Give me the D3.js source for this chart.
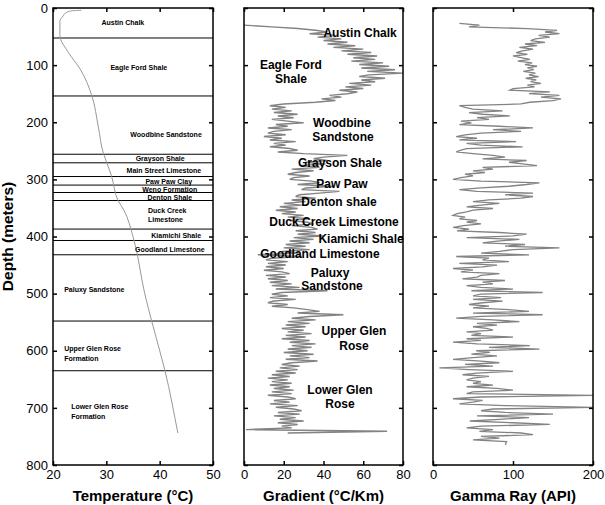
<!DOCTYPE html>
<html>
<head>
<meta charset="utf-8">
<script src="https://cdn.jsdelivr.net/npm/d3@7"></script>
<style>
  body { margin: 0; background: #fff; }
  text { font-family: "Liberation Sans", Arial, Helvetica, sans-serif; }
</style>
</head>
<body>
<svg id="chart" width="605" height="505"></svg>
<script>
// ---- data ----
const depthTicks = [0, 100, 200, 300, 400, 500, 600, 700, 800];
const tempTicks = [20, 30, 40, 50];
const gradTicks = [0, 20, 40, 60, 80];
const gammaTicks = [0, 100, 200];

// temperature profile: [temperature °C, depth m]
const tempProfile = [
  [25.3, 4], [23.5, 5], [22.5, 8], [21.9, 14], [21.3, 23], [21.3, 48], [22.9, 78],
  [25.1, 107], [27.3, 154], [28.5, 208], [29.5, 256], [30.1, 271], [31.0, 295],
  [32.2, 337], [33.3, 354], [35.0, 400], [37.2, 500], [38.5, 548], [41.0, 635], [43.4, 744]
];

// formation tops (m) drawn as lines in the left panel
const formationTops = [52.5, 154, 256, 271, 295, 310, 323, 337, 387, 407, 432, 548, 635];

// left panel labels: [text, temperature, depth, anchor]
const formationLabels = [
  ["Austin Chalk", 33.1, 26, "middle"],
  ["Eagle Ford Shale", 36.1, 105, "middle"],
  ["Woodbine Sandstone", 41.2, 222, "middle"],
  ["Grayson Shale", 40.1, 264, "middle"],
  ["Main Street Limestone", 40.8, 285, "middle"],
  ["Paw Paw Clay", 41.7, 303, "middle"],
  ["Weno Formation", 41.9, 317, "middle"],
  ["Denton Shale", 41.9, 331, "middle"],
  ["Duck Creek", 37.8, 355, "start"],
  ["Limestone", 37.8, 371, "start"],
  ["Kiamichi Shale", 43.1, 399, "middle"],
  ["Goodland Limestone", 41.9, 422, "middle"],
  ["Paluxy Sandstone", 22.1, 492, "start"],
  ["Upper Glen Rose", 22.1, 597, "start"],
  ["Formation", 22.1, 614, "start"],
  ["Lower Glen Rose", 23.4, 698, "start"],
  ["Formation", 23.4, 716, "start"]
];

// middle panel labels: [text, gradient, depth]
const gradLabels = [
  ["Austin Chalk", 58.4, 44],
  ["Eagle Ford", 23.6, 100],
  ["Shale", 23.6, 124],
  ["Woodbine", 49.3, 201],
  ["Sandstone", 49.8, 226],
  ["Grayson Shale", 48.3, 271],
  ["Paw Paw", 49.3, 308],
  ["Denton shale", 47.8, 340],
  ["Duck Creek Limestone", 45.3, 374],
  ["Kiamichi Shale", 58.9, 404],
  ["Goodland Limestone", 38.2, 431],
  ["Paluxy", 43.3, 464],
  ["Sandstone", 44.3, 487],
  ["Upper Glen", 55.3, 565],
  ["Rose", 55.3, 592],
  ["Lower Glen", 48.3, 669],
  ["Rose", 48.3, 693]
];

// geothermal gradient log, sampled every 3 m from 30 m
const gradTop = 30, gradStep = 3;
const gradValues = [
  0, 14, 27, 36, 42, 33, 46, 37, 49, 40,
  52, 42, 56, 45, 60, 49, 64, 52, 67, 55,
  66, 54, 70, 58, 73, 59, 76, 62, 80, 63,
  58, 71, 59, 66, 53, 64, 51, 60, 48, 57,
  52, 43, 49, 39, 46, 36, 20, 13, 21, 14,
  24, 15, 27, 17, 25, 14, 22, 30, 16, 22,
  12, 24, 15, 12, 21, 10, 19, 13, 26, 15,
  21, 13, 23, 27, 17, 30, 52, 40, 35, 42,
  31, 41, 28, 38, 24, 35, 26, 22, 33, 25,
  23, 34, 38, 27, 45, 31, 29, 48, 38, 28,
  26, 36, 24, 31, 20, 29, 18, 27, 16, 26,
  19, 30, 22, 33, 23, 32, 35, 24, 34, 37,
  26, 36, 27, 40, 25, 35, 23, 33, 21, 31,
  20, 33, 19, 28, 7, 29, 14, 11, 22, 12,
  21, 11, 20, 10, 19, 23, 11, 21, 12, 22,
  13, 24, 14, 28, 16, 42, 19, 14, 22, 13,
  26, 15, 12, 22, 14, 25, 32, 38, 27, 50,
  33, 24, 36, 22, 33, 21, 31, 19, 30, 22,
  34, 21, 31, 19, 33, 23, 36, 24, 34, 22,
  32, 20, 35, 23, 33, 21, 37, 24, 19, 28,
  18, 27, 16, 26, 14, 23, 12, 22, 14, 24,
  13, 23, 15, 25, 14, 24, 12, 22, 26, 15,
  23, 13, 27, 16, 25, 29, 17, 28, 15, 26,
  18, 30, 17, 27, 19, 24, 1, 72, 22
];

// gamma ray log, sampled every 3 m from 27 m
const gammaTop = 27, gammaStep = 3;
const gammaValues = [
  33, 58, 45, 118, 155, 140, 158, 132, 146, 128,
  122, 140, 115, 130, 108, 125, 112, 104, 118, 100,
  110, 121, 106, 124, 115, 130, 118, 126, 113, 128,
  120, 132, 116, 129, 122, 135, 118, 127, 100, 96,
  146, 120, 158, 135, 160, 150, 121, 110, 33, 40,
  50, 87, 45, 62, 96, 55, 70, 35, 48, 33,
  83, 125, 75, 110, 60, 40, 29, 55, 33, 104,
  42, 60, 112, 42, 35, 29, 50, 75, 90, 62,
  117, 95, 112, 130, 62, 75, 50, 65, 40, 50,
  35, 25, 60, 133, 117, 95, 60, 33, 55, 125,
  90, 125, 110, 70, 50, 83, 60, 42, 75, 50,
  42, 30, 25, 40, 33, 55, 42, 60, 38, 25,
  45, 30, 83, 117, 100, 42, 108, 80, 62, 115,
  90, 158, 100, 83, 60, 120, 29, 70, 62, 95,
  33, 80, 62, 25, 50, 35, 83, 60, 55, 37,
  90, 62, 75, 42, 60, 100, 48, 137, 60, 50,
  85, 50, 87, 62, 45, 70, 50, 95, 120, 50,
  137, 60, 29, 75, 108, 55, 80, 50, 67, 75,
  42, 60, 48, 100, 42, 60, 25, 55, 121, 70,
  133, 54, 71, 48, 80, 50, 25, 60, 83, 40,
  75, 8, 45, 100, 55, 37, 70, 50, 42, 60,
  50, 75, 42, 80, 100, 50, 42, 200, 60, 25,
  62, 50, 33, 90, 200, 75, 60, 90, 150, 55,
  120, 83, 46, 100, 146, 60, 42, 75, 58, 110,
  125, 60, 83, 50, 92, 91, 91
];

// ---- layout ----
const plotTop = 8, plotBottom = 465;
const font = '"Liberation Sans", Arial, Helvetica, sans-serif';
const svg = d3.select('#chart');

const y = d3.scaleLinear().domain([0, 800]).range([plotTop, plotBottom]);

const panels = [
  { x0: 53, x1: 213, domain: [20, 50], ticks: tempTicks, title: 'Temperature (°C)', depthLabels: true },
  { x0: 244, x1: 403, domain: [0, 80], ticks: gradTicks, title: 'Gradient (°C/Km)', depthLabels: false },
  { x0: 433, x1: 593, domain: [0, 200], ticks: gammaTicks, title: 'Gamma Ray (API)', depthLabels: false }
];
panels.forEach(p => {
  p.x = d3.scaleLinear().domain(p.domain).range([p.x0, p.x1]);
});

function styleAxis(g) {
  g.select('.domain').remove();
  g.selectAll('.tick line').attr('stroke', '#000').attr('stroke-width', 1.5);
  g.selectAll('text').attr('font-size', 13).attr('fill', '#000').style('font-family', font);
}

const line = d3.line();
const trace = '#838383';

// left panel: formation lines, temperature curve, labels
const p0 = panels[0];
svg.append('g').selectAll('line')
   .data(formationTops)
   .enter()
   .append('line')
     .attr('x1', p0.x0)
     .attr('x2', p0.x1)
     .attr('y1', d => y(d))
     .attr('y2', d => y(d))
     .attr('stroke', '#000')
     .attr('stroke-width', 1);

svg.append('path')
   .datum(tempProfile)
   .attr('d', d3.line().curve(d3.curveMonotoneY).x(d => p0.x(d[0])).y(d => y(d[1])))
   .attr('fill', 'none')
   .attr('stroke', '#999')
   .attr('stroke-width', 1);

svg.append('g').selectAll('text')
   .data(formationLabels)
   .enter()
   .append('text')
     .attr('x', d => p0.x(d[1]))
     .attr('y', d => y(d[2]))
     .attr('dy', '0.35em')
     .attr('text-anchor', d => d[3])
     .attr('font-size', 7)
     .attr('font-weight', 'bold')
     .text(d => d[0]);

// middle panel: gradient log
const p1 = panels[1];
const gradPts = gradValues.map((v, i) => [p1.x(v), y(gradTop + i * gradStep)]);
svg.append('path')
   .attr('d', line(gradPts))
   .attr('fill', 'none')
   .attr('stroke', trace)
   .attr('stroke-width', 1.4)
   .attr('stroke-linejoin', 'miter');

svg.append('g').selectAll('text')
   .data(gradLabels)
   .enter()
   .append('text')
     .attr('x', d => p1.x(d[1]))
     .attr('y', d => y(d[2]))
     .attr('dy', '0.35em')
     .attr('text-anchor', 'middle')
     .attr('font-size', 12)
     .attr('font-weight', 'bold')
     .text(d => d[0]);

// right panel: gamma ray log
const p2 = panels[2];
const gammaPts = gammaValues.map((v, i) => [p2.x(v), y(gammaTop + i * gammaStep)]);
svg.append('path')
   .attr('d', line(gammaPts))
   .attr('fill', 'none')
   .attr('stroke', trace)
   .attr('stroke-width', 1.3);

// axes and frames
panels.forEach(p => {
  svg.append('g')
     .attr('transform', `translate(0, ${plotBottom})`)
     .call(d3.axisBottom(p.x).tickValues(p.ticks).tickSize(-4).tickSizeOuter(0).tickPadding(5))
     .call(styleAxis);
  svg.append('g')
     .attr('transform', `translate(0, ${plotTop})`)
     .call(d3.axisTop(p.x).tickValues(p.ticks).tickSize(-4).tickSizeOuter(0).tickFormat(''))
     .call(styleAxis);
  svg.append('g')
     .attr('transform', `translate(${p.x0}, 0)`)
     .call(d3.axisLeft(y).tickValues(depthTicks).tickSize(-4).tickSizeOuter(0).tickPadding(5)
             .tickFormat(p.depthLabels ? d3.format('d') : ''))
     .call(styleAxis);
  svg.append('g')
     .attr('transform', `translate(${p.x1}, 0)`)
     .call(d3.axisRight(y).tickValues(depthTicks).tickSize(-4).tickSizeOuter(0).tickFormat(''))
     .call(styleAxis);

  svg.append('rect')
     .attr('x', p.x0)
     .attr('y', plotTop)
     .attr('width', p.x1 - p.x0)
     .attr('height', plotBottom - plotTop)
     .attr('fill', 'none')
     .attr('stroke', '#000')
     .attr('stroke-width', 1.5);

  svg.append('text')
     .attr('x', (p.x0 + p.x1) / 2)
     .attr('y', 501)
     .attr('text-anchor', 'middle')
     .attr('font-size', 15)
     .attr('font-weight', 'bold')
     .text(p.title);
});

// y-axis title
svg.append('text')
   .attr('transform', `translate(13, ${(plotTop + plotBottom) / 2}) rotate(-90)`)
   .attr('text-anchor', 'middle')
   .attr('font-size', 15.5)
   .attr('font-weight', 'bold')
   .text('Depth (meters)');
</script>
</body>
</html>
